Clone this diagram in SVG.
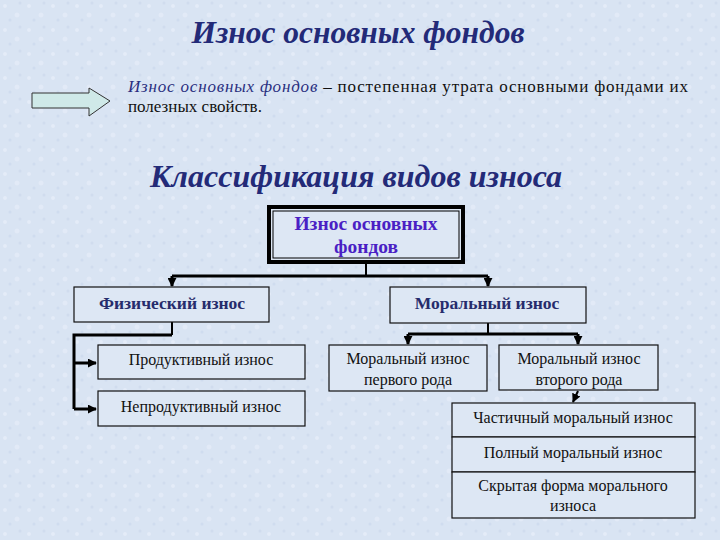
<svg xmlns="http://www.w3.org/2000/svg" width="720" height="540" viewBox="0 0 720 540">
<defs>
<marker id="ah" viewBox="0 0 10 10" refX="9" refY="5" markerWidth="9" markerHeight="9" markerUnits="userSpaceOnUse" orient="auto">
<path d="M0,0 L10,5 L0,10 z" fill="#000"/>
</marker>
<pattern id="tex" width="24" height="24" patternUnits="userSpaceOnUse">
<rect width="24" height="24" fill="#d9e4f3"/>
<circle cx="5" cy="6" r="2" fill="#e4ecf8"/>
<circle cx="17" cy="15" r="2.5" fill="#e2eaf7"/>
<circle cx="10" cy="20" r="1.5" fill="#cfdcef"/>
<circle cx="20" cy="3" r="1.5" fill="#d0dcee"/>
</pattern>
</defs>
<style>
text{font-family:"Liberation Serif","Times New Roman","DejaVu Serif",serif}
.title{font-weight:bold;font-style:italic;fill:#232a78;text-anchor:middle}
.box{fill:#dde7f4;stroke:#111;stroke-width:1.2}
.t{font-size:16px;fill:#111;text-anchor:middle}
.b{font-size:17.5px;font-weight:bold;fill:#262c6c}
.r{font-size:19.5px;font-weight:bold;fill:#4a1fc4;text-anchor:middle}
.thick{stroke:#000;stroke-width:3;fill:none}
.thin{stroke:#000;stroke-width:2;fill:none}
</style>
<rect width="720" height="540" fill="url(#tex)"/>

<text class="title" x="358" y="43" style="font-size:31.5px">Износ основных фондов</text>

<g id="arrow">
<path d="M32,93 L89,93 L89,88 L110,101 L89,116 L89,108 L32,108 Z" fill="#cfe9e8" stroke="#333" stroke-width="1"/>
</g>
<text x="128" y="92" style="font-size:17px;fill:#111" textLength="560" lengthAdjust="spacing"><tspan style="font-style:italic;fill:#2a2f80">Износ основных фондов</tspan> – постепенная утрата основными фондами их</text>
<text x="128" y="112" style="font-size:17px;fill:#111">полезных свойств.</text>

<text class="title" x="356" y="187" style="font-size:32px">Классификация видов износа</text>

<g id="connectors">
<path class="thin" d="M366,264 L366,276"/>
<path class="thick" d="M172,276 L488,276"/>
<path class="thick" d="M172,276 L172,286" marker-end="url(#ah)"/>
<path class="thick" d="M488,276 L488,286" marker-end="url(#ah)"/>
<path class="thin" d="M172,322 L172,335"/>
<path class="thick" d="M172,335 L74,335 L74,409"/>
<path class="thick" d="M74,363 L96,363" marker-end="url(#ah)"/>
<path class="thick" d="M74,409 L96,409" marker-end="url(#ah)"/>
<path class="thin" d="M488,323 L488,334"/>
<path class="thick" d="M408,334 L578,334"/>
<path class="thick" d="M408,334 L408,344" marker-end="url(#ah)"/>
<path class="thick" d="M578,334 L578,344" marker-end="url(#ah)"/>
<path class="thin" d="M578,391 L573,402" marker-end="url(#ah)"/>
</g>

<g id="root">
<rect x="269" y="207" width="194" height="55" fill="#dde7f4" stroke="#000" stroke-width="4"/>
<rect x="273" y="211" width="186" height="47" fill="none" stroke="#000" stroke-width="1"/>
<text class="r" x="366" y="230">Износ основных</text>
<text class="r" x="366" y="253">фондов</text>
</g>

<g id="phys">
<rect class="box" x="74" y="287" width="195" height="35"/>
<text class="t b" x="172" y="309">Физический износ</text>
</g>
<g id="prod">
<rect class="box" x="98" y="345" width="207" height="34"/>
<text class="t" x="201" y="365">Продуктивный износ</text>
</g>
<g id="neprod">
<rect class="box" x="98" y="391" width="207" height="35"/>
<text class="t" x="201" y="412">Непродуктивный износ</text>
</g>
<g id="moral">
<rect class="box" x="390" y="287" width="196" height="36"/>
<text class="t b" x="487" y="309">Моральный износ</text>
</g>
<g id="moral1">
<rect class="box" x="329" y="345" width="158" height="46"/>
<text class="t" x="408" y="364">Моральный износ</text>
<text class="t" x="408" y="385">первого рода</text>
</g>
<g id="moral2">
<rect class="box" x="499" y="345" width="159" height="45"/>
<text class="t" x="579" y="364">Моральный износ</text>
<text class="t" x="579" y="385">второго рода</text>
</g>
<g id="partial">
<rect class="box" x="452" y="403" width="243" height="34"/>
<text class="t" x="573" y="423">Частичный моральный износ</text>
</g>
<g id="full">
<rect class="box" x="452" y="437" width="243" height="35"/>
<text class="t" x="573" y="458">Полный моральный износ</text>
</g>
<g id="hidden">
<rect class="box" x="452" y="472" width="243" height="46"/>
<text class="t" x="573" y="491">Скрытая форма морального</text>
<text class="t" x="573" y="511">износа</text>
</g>
</svg>
